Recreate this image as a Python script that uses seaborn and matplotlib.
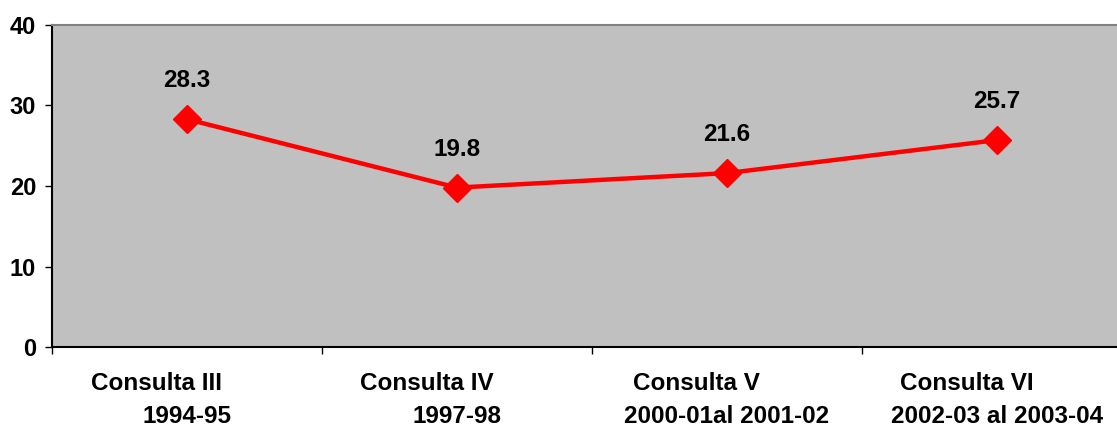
import matplotlib
matplotlib.use("Agg")
import matplotlib.pyplot as plt
import seaborn as sns
import pandas as pd
import numpy as np

categories = ["Consulta III", "Consulta IV", "Consulta V", "Consulta VI"]
periods = ["1994-95", "1997-98", "2000-01al 2001-02", "2002-03 al 2003-04"]
values = [28.3, 19.8, 21.6, 25.7]
yticks = [0, 10, 20, 30, 40]

sns.set_style("white")
plt.rcParams['font.family'] = ['Liberation Sans', 'DejaVu Sans']
plt.rcParams['font.weight'] = 'bold'

df = pd.DataFrame({"pos": np.arange(len(categories)), "value": values})

fig = plt.figure(figsize=(11.17, 4.26), dpi=100)
ax = fig.add_axes([52/1117, 1-347/426, 1080/1117, 322/426])
ax.set_facecolor("#C0C0C0")

sns.lineplot(data=df, x="pos", y="value", ax=ax, color="#FF0000", linewidth=3.2,
             marker="D", markersize=14.5, markeredgecolor="#FF0000", markeredgewidth=1)

for x, v in zip(df["pos"], values):
    ax.annotate(f"{v:.1f}", (x, v), xytext=(0, 23), textcoords="offset points",
                ha="center", va="baseline", fontsize=17.5, fontweight="bold", color="black")

ax.set_xlim(-0.5, len(categories) - 0.5)
ax.set_ylim(0, 40)
ax.set_yticks(yticks)
ax.set_yticklabels([str(t) for t in yticks], fontsize=17, fontweight="bold", color="black")

ax.set_xticks(np.arange(len(categories) + 1) - 0.5)
ax.set_xticklabels([])
ax.set_xticks(np.arange(len(categories)), minor=True)
labels = [c + "\u00a0" * 9 + "\n" + p for c, p in zip(categories, periods)]
ax.set_xticklabels(labels, minor=True, fontsize=17.5, fontweight="bold", color="black",
                   linespacing=1.55)
ax.tick_params(axis="x", which="minor", length=0, pad=18, bottom=True)
ax.tick_params(axis="x", which="major", length=5, width=1, color="black", direction="out",
               bottom=True)
ax.tick_params(axis="y", length=5, width=1, color="black", direction="out", pad=6.5, left=True)

ax.set_xlabel("")
ax.set_ylabel("")
for s in ["left", "bottom"]:
    ax.spines[s].set_color("black")
    ax.spines[s].set_linewidth(1.5)
ax.spines["top"].set_color("#808080")
ax.spines["top"].set_linewidth(1.5)
ax.spines["right"].set_color("#808080")

fig.savefig("out.png", dpi=100)
